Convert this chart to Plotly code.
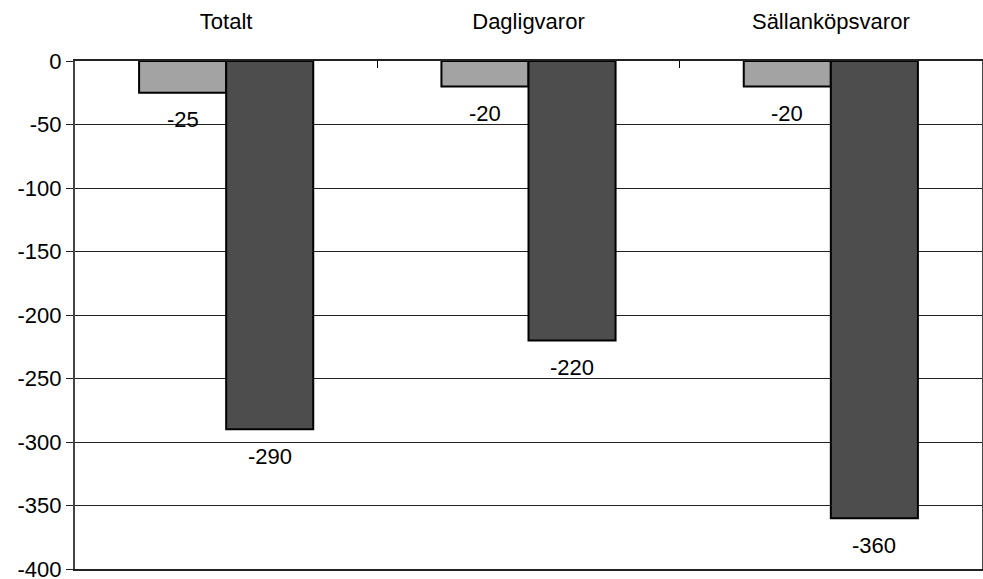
import plotly.graph_objects as go

categories = ["Totalt", "Dagligvaror", "Sällanköpsvaror"]
series_a = [-25, -20, -20]
series_b = [-290, -220, -360]
y_ticks = [0, -50, -100, -150, -200, -250, -300, -350, -400]
y_tick_labels = ["0", "-50", "-100", "-150", "-200", "-250", "-300", "-350", "-400"]

BARGAP = 0.424
FONT = "Arial, Liberation Sans, sans-serif"

fig = go.Figure()
fig.add_trace(go.Bar(x=categories, y=series_a, name="A",
                     marker=dict(color="#a3a3a3", line=dict(color="#000000", width=2))))
fig.add_trace(go.Bar(x=categories, y=series_b, name="B",
                     marker=dict(color="#4d4d4d", line=dict(color="#000000", width=2))))

off = (1 - BARGAP) / 4
annotations = []
for i, (a, b) in enumerate(zip(series_a, series_b)):
    for val, dx in ((a, -off), (b, off)):
        annotations.append(dict(x=i + dx, y=val, xref="x", yref="y", text=str(val),
                                showarrow=False, yanchor="middle", yshift=-27,
                                font=dict(family=FONT, size=22, color="#000000")))

fig.update_layout(
    width=983, height=579,
    margin=dict(l=75, r=1, t=61, b=10, autoexpand=False),
    paper_bgcolor="white", plot_bgcolor="white",
    barmode="group", bargap=BARGAP, bargroupgap=0,
    showlegend=False,
    font=dict(family=FONT, size=22, color="#000000"),
    annotations=annotations,
    xaxis=dict(side="top", type="category", tickson="boundaries", ticks="inside",
               ticklen=7, tickwidth=1, tickcolor="#000000", automargin=False,
               showline=True, linecolor="#222222", linewidth=2, mirror=True,
               showgrid=False, ticklabelstandoff=21,
               tickfont=dict(family=FONT, size=22, color="#000000")),
    yaxis=dict(range=[-400, 0], tickvals=y_ticks, ticktext=y_tick_labels,
               ticks="outside", ticklen=7, ticklabeloverflow="allow", automargin=False,
               tickcolor="#222222", tickwidth=1,
               showline=True, linecolor="#444444", linewidth=2, mirror=True,
               showgrid=True, gridcolor="#222222", gridwidth=1, zeroline=False,
               tickfont=dict(family=FONT, size=22, color="#000000")),
)

fig.write_html("out.html")
